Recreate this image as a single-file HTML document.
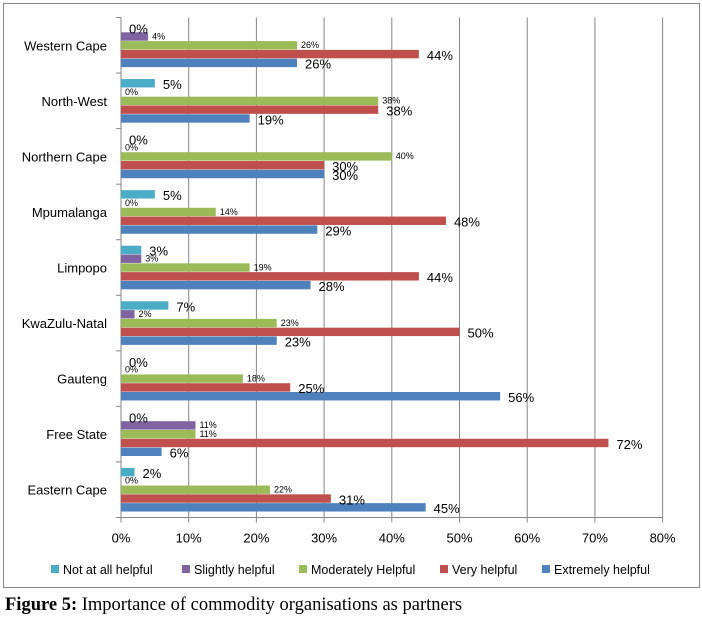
<!DOCTYPE html>
<html><head><meta charset="utf-8"><style>
body{margin:0;background:#fff;}
svg{display:block;font-family:"Liberation Sans",sans-serif;}
</style></head><body>
<svg id="chart" width="702" height="620">
<rect x="3.5" y="3.5" width="696" height="584" fill="#fff" stroke="#888"/>
<g id="grid"></g><g id="bars"></g><g id="labels"></g><g id="legend"></g>
<text x="5" y="610" font-family="Liberation Serif,serif" font-size="18.5" fill="#000"><tspan font-weight="bold">Figure 5:</tspan> Importance of commodity organisations as partners</text>
</svg>
<script>
const categories=["Western Cape","North-West","Northern Cape","Mpumalanga","Limpopo","KwaZulu-Natal","Gauteng","Free State","Eastern Cape"];
const notAtAll=[0,5,0,5,3,7,0,0,2];
const slightly=[4,0,0,0,3,2,0,11,0];
const moderately=[26,38,40,14,19,23,18,11,22];
const very=[44,38,30,48,44,50,25,72,31];
const extremely=[26,19,30,29,28,23,56,6,45];
const seriesNames=["Not at all helpful","Slightly helpful","Moderately Helpful","Very helpful","Extremely helpful"];
const tickValues=[0,10,20,30,40,50,60,70,80];
const series=[notAtAll,slightly,moderately,very,extremely];
const colors=["#4bacc6","#8064a2","#9bbb59","#c0504d","#4f81bd"];
const small=[false,true,true,false,false];
const NS="http://www.w3.org/2000/svg";
const x0=121,pxPer=6.77,yTop=17.5,yBottom=517.5;
const gh=(yBottom-yTop)/categories.length;
function X(v){return x0+v*pxPer;}
function mk(t,a,p){const e=document.createElementNS(NS,t);for(const k in a)e.setAttribute(k,a[k]);p.appendChild(e);return e;}
const grid=document.getElementById('grid'),bars=document.getElementById('bars'),labels=document.getElementById('labels'),legend=document.getElementById('legend');
tickValues.forEach(v=>{
  const l=mk('line',{x1:X(v),x2:X(v),y1:yTop,y2:yBottom+5,stroke:'#868686','stroke-width':1},grid);
  
  
  const t=mk('text',{x:X(v),y:yBottom+25,'text-anchor':'middle','font-size':13,fill:'#000'},grid);
  t.textContent=v+'%';
  
  
});
mk('line',{x1:x0,x2:X(80),y1:yBottom,y2:yBottom,stroke:'#868686'},grid);
for(let i=0;i<=categories.length;i++){mk('line',{x1:x0-5,x2:x0,y1:yTop+i*gh,y2:yTop+i*gh,stroke:'#868686'},grid);}
categories.forEach((c,i)=>{
  const gy=yTop+i*gh;
  const t=mk('text',{x:x0-14,y:gy+gh/2+5,'text-anchor':'end','font-size':13,fill:'#000'},labels);
  t.textContent=c;
  
  
  series.forEach((s,j)=>{
    const by=gy+6+j*8.8,v=s[i];
    const r=mk('rect',{x:x0,y:by,width:Math.max(0,X(v)-x0),height:8.4,fill:colors[j]},bars);
    
    
    const lt=mk('text',{x:X(v)+(small[j]?4:8),y:by+(small[j]?7:10),'font-size':small[j]?9:13,fill:'#000'},labels);
    lt.textContent=v+'%';
    
    
  });
});
const legendX=[51,182,299,440,542];
seriesNames.forEach((n,j)=>{
  const g=mk('g',{},legend);
  
  
  mk('rect',{x:legendX[j],y:565,width:8,height:8,fill:colors[j]},g);
  const t=mk('text',{x:legendX[j]+12,y:574,'font-size':12.5,fill:'#000'},g);
  t.textContent=n;
});
</script>
</body></html>
